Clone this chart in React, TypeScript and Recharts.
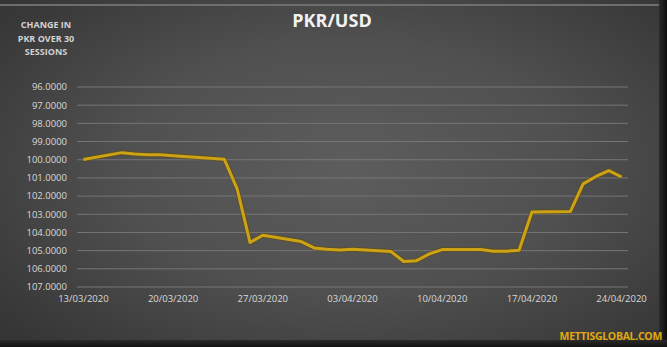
import { LineChart, Line, XAxis, YAxis, CartesianGrid } from "recharts";

const sessionDates = [
  "13/03/2020", "16/03/2020", "17/03/2020", "18/03/2020", "19/03/2020", "20/03/2020",
  "24/03/2020", "25/03/2020", "26/03/2020", "27/03/2020", "30/03/2020", "31/03/2020",
  "01/04/2020", "02/04/2020", "03/04/2020", "06/04/2020", "07/04/2020", "08/04/2020",
  "09/04/2020", "10/04/2020", "13/04/2020", "14/04/2020", "15/04/2020", "16/04/2020",
  "17/04/2020", "20/04/2020", "21/04/2020", "22/04/2020", "23/04/2020", "24/04/2020",
];

const pkrUsd = [
  99.99, 99.61, 99.68, 99.72, 99.73, 99.78,
  99.98, 101.6, 104.55, 104.15, 104.5, 104.85,
  104.93, 104.97, 104.92, 105.05, 105.6, 105.55,
  105.18, 104.94, 104.94, 105.03, 105.03, 104.98,
  102.88, 102.85, 101.33, 100.92, 100.6, 100.95,
];

const xTickLabels = [
  "13/03/2020", "20/03/2020", "27/03/2020", "03/04/2020",
  "10/04/2020", "17/04/2020", "24/04/2020",
];

const yTicks = [96, 97, 98, 99, 100, 101, 102, 103, 104, 105, 106, 107];

const toDay = (s: string) => {
  const [d, m, y] = s.split("/").map(Number);
  return Date.UTC(y, m - 1, d) / 86400000;
};

const base = toDay(sessionDates[0]);
const data = sessionDates.map((date, i) => ({ day: toDay(date) - base, value: pkrUsd[i] }));
const xTicks = xTickLabels.map((l) => toDay(l) - base);
const lastDay = data[data.length - 1].day;

const labelFor = (v: number) => {
  const i = xTicks.indexOf(v);
  return i >= 0 ? xTickLabels[i] : "";
};

const font = "'Open Sans', sans-serif";

export default function App() {
  return (
    <div
      style={{
        position: "absolute",
        left: 0,
        top: 0,
        width: 667,
        height: 347,
        overflow: "hidden",
        background:
          "radial-gradient(ellipse 75% 80% at 52% 48%, #5d5d5d 0%, #505050 45%, #3b3b3b 80%, #303030 100%)",
        fontFamily: font,
      }}
    >
      <div style={{ position: "absolute", left: 0, top: 4, width: 660, height: 2, background: "#6e6e6e" }} />
      <div style={{ position: "absolute", right: 0, top: 0, width: 8, height: 347, background: "linear-gradient(to right, #2a2a2a, #0e0e0e)" }} />
      <div style={{ position: "absolute", left: 0, bottom: 0, width: 667, height: 7, background: "linear-gradient(to bottom, #2a2a2a, #121212)" }} />
      <div
        style={{
          position: "absolute",
          left: 5,
          top: 18,
          width: 82,
          textAlign: "center",
          color: "#d2d2d2",
          fontWeight: 700,
          fontSize: 9,
          lineHeight: "13.5px",
        }}
      >
        CHANGE IN
        <br />
        PKR OVER 30
        <br />
        SESSIONS
      </div>
      <div
        style={{
          position: "absolute",
          left: 232,
          top: 8,
          width: 200,
          textAlign: "center",
          color: "#f2f2f2",
          fontWeight: 700,
          fontSize: 18,
          lineHeight: "24px",
        }}
      >
        PKR/USD
      </div>
      <div
        style={{
          position: "absolute",
          right: 5,
          top: 329,
          color: "#e0a90c",
          fontWeight: 700,
          fontSize: 10.5,
          lineHeight: "14px",
          letterSpacing: -0.3,
        }}
      >
        METTISGLOBAL.COM
      </div>
      <LineChart width={667} height={347} data={data} margin={{ top: 87, right: 39, bottom: 40, left: 0 }}>
        <CartesianGrid vertical={false} stroke="#767676" strokeWidth={1} />
        <XAxis
          type="number"
          dataKey="day"
          domain={[-0.5, lastDay + 0.5]}
          ticks={xTicks}
          tickFormatter={labelFor}
          axisLine={false}
          tickLine={false}
          tickSize={0}
          tickMargin={8}
          height={20}
          tick={{ fill: "#d9d9d9", fontSize: 9.5, fontFamily: font }}
        />
        <YAxis
          reversed
          domain={[96, 107]}
          ticks={yTicks}
          tickFormatter={(v) => Number(v).toFixed(4)}
          axisLine={false}
          tickLine={false}
          tickSize={0}
          tickMargin={10}
          width={77}
          interval={0}
          tick={{ fill: "#d9d9d9", fontSize: 9.5, fontFamily: font }}
        />
        <Line
          dataKey="value"
          stroke="#5e4c12"
          strokeWidth={5}
          strokeOpacity={0.6}
          dot={false}
          isAnimationActive={false}
          strokeLinejoin="round"
        />
        <Line
          dataKey="value"
          stroke="#cda214"
          strokeWidth={3}
          dot={false}
          isAnimationActive={false}
          strokeLinejoin="round"
        />
      </LineChart>
    </div>
  );
}
